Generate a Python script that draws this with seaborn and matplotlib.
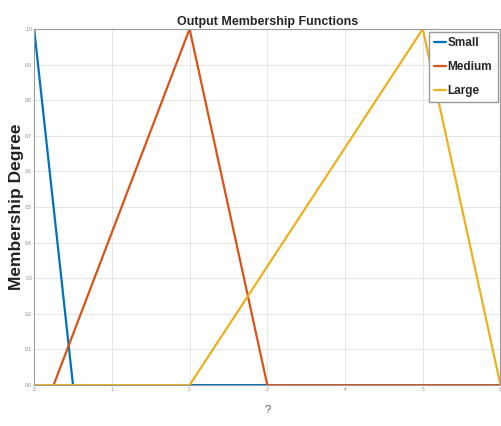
# 输出隶属函数图
import pandas as pd
import numpy as np
import matplotlib
matplotlib.use('Agg')
import matplotlib.pyplot as plt
from matplotlib import font_manager
import seaborn as sns

# 各隶属函数的折点
small_x = [0, 0.5, 6]
small_y = [1, 0, 0]
medium_x = [0, 0.25, 2, 3, 6]
medium_y = [0, 0, 1, 0, 0]
large_x = [0, 2, 5, 6]
large_y = [0, 0, 1, 0]
names = ['Small', 'Medium', 'Large']
colors = ['#0072BD', '#D95319', '#EDB120']

x_ticks = [0, 1, 2, 3, 4, 5, 6]
y_ticks = [0, 0.1, 0.2, 0.3, 0.4, 0.5, 0.6, 0.7, 0.8, 0.9, 1]

sns.set_style('white')
installed = {f.name for f in font_manager.fontManager.ttflist}
narrow = 'Liberation Sans Narrow' if 'Liberation Sans Narrow' in installed else 'Liberation Sans'
plt.rcParams['font.family'] = [narrow, 'DejaVu Sans']

df = pd.concat([
    pd.DataFrame({'x': small_x, 'y': small_y, 'name': 'Small'}),
    pd.DataFrame({'x': medium_x, 'y': medium_y, 'name': 'Medium'}),
    pd.DataFrame({'x': large_x, 'y': large_y, 'name': 'Large'}),
])

fig = plt.figure(figsize=(5.02, 4.26), dpi=100)
ax = fig.add_axes([0.068, 0.096, 0.929, 0.836])

sns.lineplot(data=df, x='x', y='y', hue='name', hue_order=names,
             palette=colors, sort=False, estimator=None, linewidth=1.6, ax=ax)

ax.set_xlim(0, 6)
ax.set_ylim(0, 1)
ax.set_xticks(x_ticks)
ax.set_yticks(y_ticks)
ax.tick_params(labelsize=3.5, colors='#888888', length=2, width=0.5,
               direction='in', pad=1.5)
ax.grid(True, color='#e6e6e6', linewidth=0.7)
for s in ax.spines.values():
    s.set_color('#999999')
    s.set_linewidth(0.8)

ax.set_title('Output Membership Functions', fontsize=9, fontweight='bold', pad=3)
ax.set_xlabel('?', fontsize=8, color='#555555', labelpad=9)
ax.set_ylabel('Membership Degree', fontsize=12.5, fontweight='bold', color='#222222')
ax.yaxis.set_label_coords(-0.021, 0.5)

leg = ax.legend(loc='upper right', fontsize=8.5, handlelength=1.0, handletextpad=0.15,
                borderpad=0.45, labelspacing=1.0, fancybox=False, framealpha=1,
                edgecolor='#999999', borderaxespad=0.25)
for t in leg.get_texts():
    t.set_fontweight('bold')

fig.savefig('out.png', dpi=100)
